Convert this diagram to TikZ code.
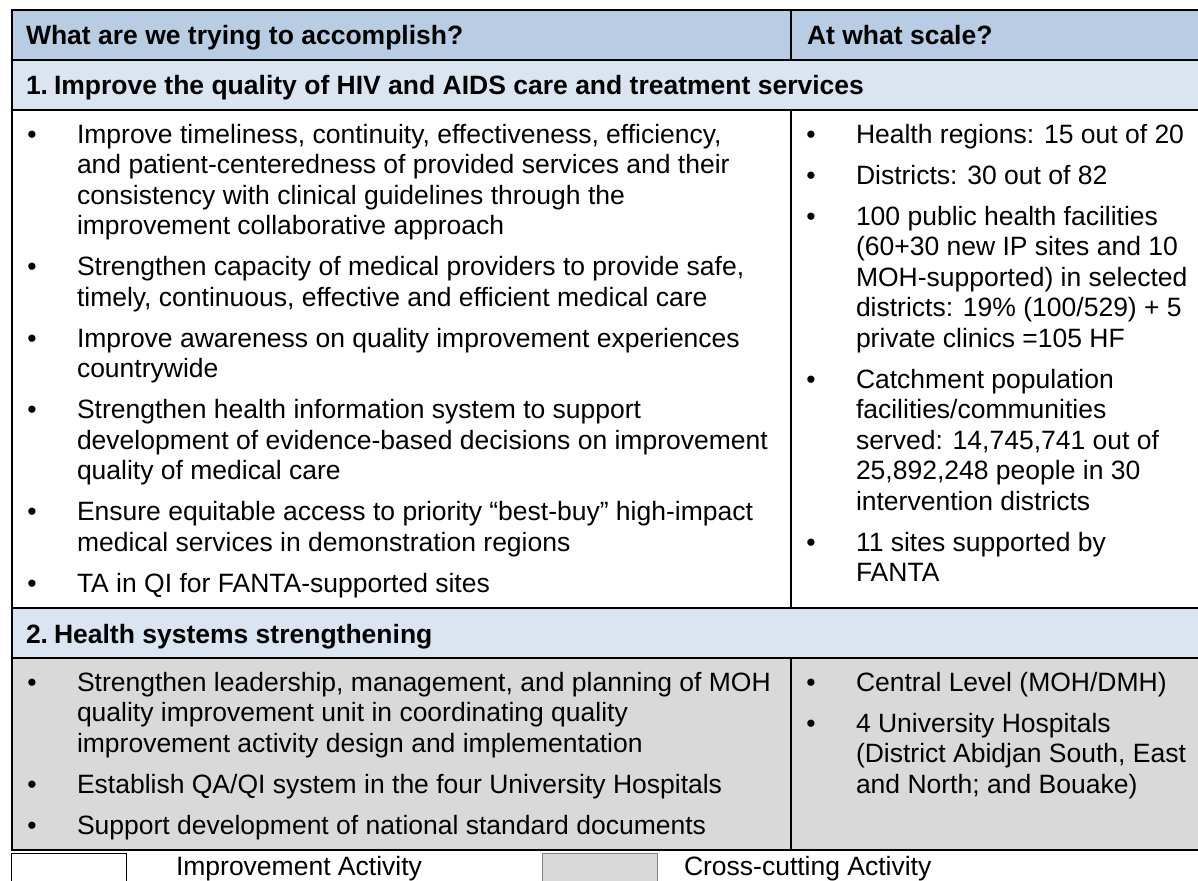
\documentclass[tikz,border=0pt]{standalone}
\usepackage{fontspec}
\setmainfont{Liberation Sans}
\usetikzlibrary{positioning}
\definecolor{enteteBleu}{RGB}{184,204,228}
\definecolor{sectionBleu}{RGB}{219,229,241}
\definecolor{transGris}{RGB}{217,217,217}
\newcommand{\corps}{\fontsize{26.5}{30.5}\selectfont}
\newcommand{\lignes}[1]{\begin{tabular}[t]{@{}l@{}}#1\end{tabular}}

\begin{document}
\begin{tikzpicture}[x=1pt, y=-1pt, line width=2pt,
    puce/.style={anchor=base, inner sep=0pt, font=\corps},
    item/.style={anchor=base west, inner sep=0pt, font=\corps},
    titre/.style={anchor=base west, inner sep=0pt, font=\corps\bfseries}]

\useasboundingbox (0,0) rectangle (1198,880);

% Fonds
\fill[enteteBleu] (12,10) rectangle (1200,60);
\fill[sectionBleu] (12,60) rectangle (1200,110);
\fill[sectionBleu] (12,608) rectangle (1200,658);
\fill[transGris] (12,658) rectangle (1200,850);

% Cadre et lignes
\draw (12,10) rectangle (1200,850);
\foreach \y in {60, 110, 608, 658} {
    \draw (12,\y) -- (1200,\y);
}
\draw (791,10) -- (791,60);
\draw (791,110) -- (791,608);
\draw (791,658) -- (791,850);

% En-tete
\node[titre] (qui) at (25,44.5) {What are we trying to accomplish?};
\node[titre] (echelle) at (806,44.5) {At what scale?};

% Section 1
\node[titre] (num1) at (25,94.5) {1.};
\node[titre] (sec1) at (53,94.5) {Improve the quality of HIV and AIDS care and treatment services};

\foreach \y in {143, 275.5, 347, 418.5, 520.5, 592} {
    \node[puce] at (32,\y) {•};
}
\node[item] (a1) at (76,143) {\lignes{Improve timeliness, continuity, effectiveness, efficiency,\\and patient-centeredness of provided services and their\\consistency with clinical guidelines through the\\improvement collaborative approach}};
\node[item] (a2) at (76,275.5) {\lignes{Strengthen capacity of medical providers to provide safe,\\timely, continuous, effective and efficient medical care}};
\node[item] (a3) at (76,347) {\lignes{Improve awareness on quality improvement experiences\\countrywide}};
\node[item] (a4) at (76,418.5) {\lignes{Strengthen health information system to support\\development of evidence-based decisions on improvement\\quality of medical care}};
\node[item] (a5) at (76,520.5) {\lignes{Ensure equitable access to priority “best-buy” high-impact\\medical services in demonstration regions}};
\node[item] (a6) at (76,592) {TA in QI for FANTA-supported sites};

\foreach \y in {143, 184, 225, 388, 551} {
    \node[puce] at (811,\y) {•};
}
\node[item] (e1) at (855,143) {Health regions: 15 out of 20};
\node[item] (e2) at (855,184) {Districts: 30 out of 82};
\node[item] (e3) at (855,225) {\lignes{100 public health facilities\\(60+30 new IP sites and 10\\MOH-supported) in selected\\districts: 19\% (100/529) + 5\\private clinics =105 HF}};
\node[item] (e4) at (855,388) {\lignes{Catchment population\\facilities/communities\\served: 14,745,741 out of\\25,892,248 people in 30\\intervention districts}};
\node[item] (e5) at (855,551) {\lignes{11 sites supported by\\FANTA}};

% Section 2
\node[titre] (num2) at (25,643.5) {2.};
\node[titre] (sec2) at (53,643.5) {Health systems strengthening};

\foreach \y in {691, 793, 834} {
    \node[puce] at (32,\y) {•};
}
\node[item] (b1) at (76,691) {\lignes{Strengthen leadership, management, and planning of MOH\\quality improvement unit in coordinating quality\\improvement activity design and implementation}};
\node[item] (b2) at (76,793) {Establish QA/QI system in the four University Hospitals};
\node[item] (b3) at (76,834) {Support development of national standard documents};

\foreach \y in {691, 732} {
    \node[puce] at (811,\y) {•};
}
\node[item] (f1) at (855,691) {Central Level (MOH/DMH)};
\node[item] (f2) at (855,732) {\lignes{4 University Hospitals\\(District Abidjan South, East\\and North; and Bouake)}};

% Legende
\draw[line width=1pt] (11,853) rectangle (126,884);
\node[item] (leg1) at (175,875) {Improvement Activity};
\draw[line width=1pt, gray, fill=transGris] (542,853) rectangle (657,884);
\node[item] (leg2) at (683,875) {Cross-cutting Activity};

\end{tikzpicture}
\end{document}
